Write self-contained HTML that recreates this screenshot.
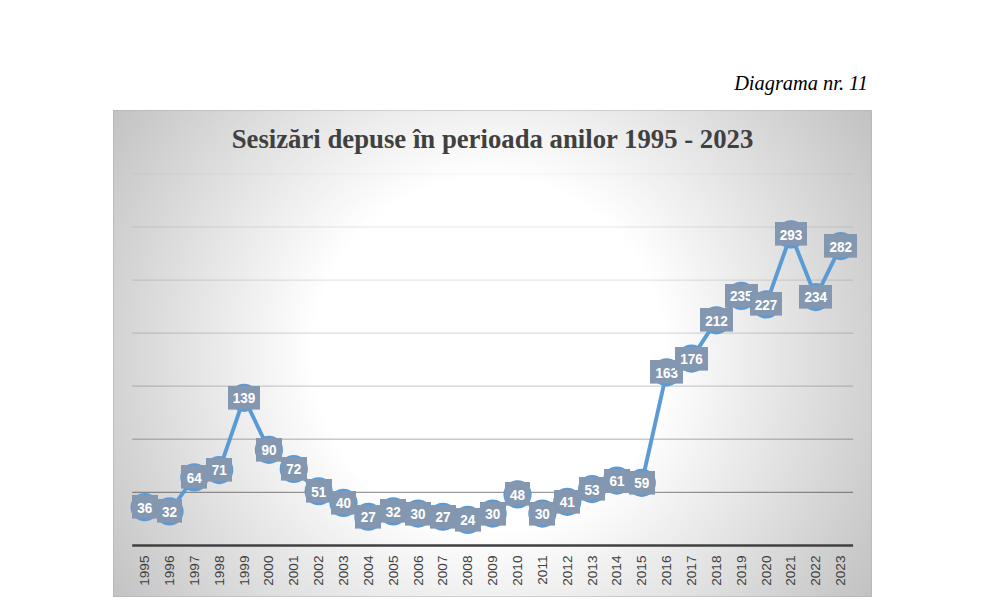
<!DOCTYPE html>
<html><head><meta charset="utf-8">
<style>
html,body{margin:0;padding:0;background:#fff;width:981px;height:615px;overflow:hidden;position:relative}
#diag{position:absolute;right:113px;top:71px;font-style:italic;font-size:20.4px;color:#000;font-family:"Liberation Serif",serif;white-space:nowrap;line-height:24px}
#chart{position:absolute;left:113px;top:110px;width:759px;height:487px;box-sizing:border-box;border:1px solid rgba(172,172,172,0.47);
background:radial-gradient(circle 452px at 375px 243px,#ffffff 0px,#ffffff 175px,#c2c2c2 452px)}
svg{position:absolute;left:0;top:0}
.dl text{font-family:"Liberation Sans",sans-serif;font-weight:bold;font-size:13.5px;fill:#fff;stroke:#fff;stroke-width:0.05px}
.xl text{font-family:"Liberation Sans",sans-serif;font-size:13.6px;fill:#404040}
#title{font-family:"Liberation Serif",serif;font-weight:bold;font-size:26.75px;fill:#404040}
</style></head><body>
<div id="diag">Diagrama nr. 11</div>
<div id="chart"></div>
<svg width="981" height="615" viewBox="0 0 981 615">
<text id="title" transform="translate(492.5,148.2) scale(1,1.055)" text-anchor="middle">Sesizări depuse în perioada anilor 1995 - 2023</text>
<line x1="132.2" y1="492.33" x2="853.1" y2="492.33" stroke="#000" stroke-opacity="0.39" stroke-width="1.3"/><line x1="132.2" y1="439.26" x2="853.1" y2="439.26" stroke="#000" stroke-opacity="0.21" stroke-width="1.3"/><line x1="132.2" y1="386.19" x2="853.1" y2="386.19" stroke="#000" stroke-opacity="0.18" stroke-width="1.3"/><line x1="132.2" y1="333.12" x2="853.1" y2="333.12" stroke="#000" stroke-opacity="0.14" stroke-width="1.3"/><line x1="132.2" y1="280.05" x2="853.1" y2="280.05" stroke="#000" stroke-opacity="0.1" stroke-width="1.3"/><line x1="132.2" y1="226.98000000000002" x2="853.1" y2="226.98000000000002" stroke="#000" stroke-opacity="0.065" stroke-width="1.3"/><line x1="132.2" y1="173.91000000000003" x2="853.1" y2="173.91000000000003" stroke="#000" stroke-opacity="0.03" stroke-width="1.3"/>
<line x1="132.2" y1="545.4" x2="853.1" y2="545.4" stroke="#404040" stroke-width="2.5"/>
<polyline points="144.63,507.19 169.49,511.44 194.35,477.47 219.21,470.04 244.06,397.87 268.92,449.87 293.78,468.98 318.64,491.27 343.50,502.94 368.36,516.74 393.22,511.44 418.07,513.56 442.93,516.74 467.79,519.93 492.65,513.56 517.51,494.45 542.37,513.56 567.23,501.88 592.08,489.15 616.94,480.65 641.80,482.78 666.66,372.39 691.52,358.59 716.38,320.38 741.24,295.97 766.09,304.46 790.95,234.41 815.81,297.03 840.67,246.09" fill="none" stroke="#5b9bd5" stroke-width="3.9" stroke-linejoin="round"/>
<circle cx="144.63" cy="507.19" r="14.1" fill="#5b9bd5"/><circle cx="169.49" cy="511.44" r="14.1" fill="#5b9bd5"/><circle cx="194.35" cy="477.47" r="14.1" fill="#5b9bd5"/><circle cx="219.21" cy="470.04" r="14.1" fill="#5b9bd5"/><circle cx="244.06" cy="397.87" r="14.1" fill="#5b9bd5"/><circle cx="268.92" cy="449.87" r="14.1" fill="#5b9bd5"/><circle cx="293.78" cy="468.98" r="14.1" fill="#5b9bd5"/><circle cx="318.64" cy="491.27" r="14.1" fill="#5b9bd5"/><circle cx="343.50" cy="502.94" r="14.1" fill="#5b9bd5"/><circle cx="368.36" cy="516.74" r="14.1" fill="#5b9bd5"/><circle cx="393.22" cy="511.44" r="14.1" fill="#5b9bd5"/><circle cx="418.07" cy="513.56" r="14.1" fill="#5b9bd5"/><circle cx="442.93" cy="516.74" r="14.1" fill="#5b9bd5"/><circle cx="467.79" cy="519.93" r="14.1" fill="#5b9bd5"/><circle cx="492.65" cy="513.56" r="14.1" fill="#5b9bd5"/><circle cx="517.51" cy="494.45" r="14.1" fill="#5b9bd5"/><circle cx="542.37" cy="513.56" r="14.1" fill="#5b9bd5"/><circle cx="567.23" cy="501.88" r="14.1" fill="#5b9bd5"/><circle cx="592.08" cy="489.15" r="14.1" fill="#5b9bd5"/><circle cx="616.94" cy="480.65" r="14.1" fill="#5b9bd5"/><circle cx="641.80" cy="482.78" r="14.1" fill="#5b9bd5"/><circle cx="666.66" cy="372.39" r="14.1" fill="#5b9bd5"/><circle cx="691.52" cy="358.59" r="14.1" fill="#5b9bd5"/><circle cx="716.38" cy="320.38" r="14.1" fill="#5b9bd5"/><circle cx="741.24" cy="295.97" r="14.1" fill="#5b9bd5"/><circle cx="766.09" cy="304.46" r="14.1" fill="#5b9bd5"/><circle cx="790.95" cy="234.41" r="14.1" fill="#5b9bd5"/><circle cx="815.81" cy="297.03" r="14.1" fill="#5b9bd5"/><circle cx="840.67" cy="246.09" r="14.1" fill="#5b9bd5"/>
<g class="dl"><rect x="132" y="495" width="26" height="23.600000000000023" fill="#8497b0"/><text transform="translate(144.63,512.64) scale(1,1.035)" text-anchor="middle">36</text><rect x="157" y="499" width="25" height="23.600000000000023" fill="#8497b0"/><text transform="translate(169.49,516.89) scale(1,1.035)" text-anchor="middle">32</text><rect x="181" y="465" width="26" height="23.600000000000023" fill="#8497b0"/><text transform="translate(194.35,482.92) scale(1,1.035)" text-anchor="middle">64</text><rect x="206" y="458" width="26" height="23.600000000000023" fill="#8497b0"/><text transform="translate(219.21,475.49) scale(1,1.035)" text-anchor="middle">71</text><rect x="228" y="386" width="32" height="23.600000000000023" fill="#8497b0"/><text transform="translate(244.06,403.32) scale(1,1.035)" text-anchor="middle">139</text><rect x="256" y="438" width="26" height="23.600000000000023" fill="#8497b0"/><text transform="translate(268.92,455.33) scale(1,1.035)" text-anchor="middle">90</text><rect x="281" y="457" width="26" height="23.600000000000023" fill="#8497b0"/><text transform="translate(293.78,474.43) scale(1,1.035)" text-anchor="middle">72</text><rect x="306" y="479" width="26" height="23.600000000000023" fill="#8497b0"/><text transform="translate(318.64,496.72) scale(1,1.035)" text-anchor="middle">51</text><rect x="331" y="491" width="25" height="23.600000000000023" fill="#8497b0"/><text transform="translate(343.50,508.40) scale(1,1.035)" text-anchor="middle">40</text><rect x="355" y="505" width="26" height="23.600000000000023" fill="#8497b0"/><text transform="translate(368.36,522.19) scale(1,1.035)" text-anchor="middle">27</text><rect x="380" y="499" width="26" height="23.600000000000023" fill="#8497b0"/><text transform="translate(393.22,516.89) scale(1,1.035)" text-anchor="middle">32</text><rect x="405" y="502" width="26" height="23.600000000000023" fill="#8497b0"/><text transform="translate(418.07,519.01) scale(1,1.035)" text-anchor="middle">30</text><rect x="430" y="505" width="26" height="23.600000000000023" fill="#8497b0"/><text transform="translate(442.93,522.19) scale(1,1.035)" text-anchor="middle">27</text><rect x="455" y="508" width="26" height="23.600000000000023" fill="#8497b0"/><text transform="translate(467.79,525.38) scale(1,1.035)" text-anchor="middle">24</text><rect x="480" y="502" width="26" height="23.600000000000023" fill="#8497b0"/><text transform="translate(492.65,519.01) scale(1,1.035)" text-anchor="middle">30</text><rect x="505" y="482" width="25" height="23.600000000000023" fill="#8497b0"/><text transform="translate(517.51,499.90) scale(1,1.035)" text-anchor="middle">48</text><rect x="529" y="502" width="26" height="23.600000000000023" fill="#8497b0"/><text transform="translate(542.37,519.01) scale(1,1.035)" text-anchor="middle">30</text><rect x="554" y="490" width="26" height="23.600000000000023" fill="#8497b0"/><text transform="translate(567.23,507.33) scale(1,1.035)" text-anchor="middle">41</text><rect x="579" y="477" width="26" height="23.600000000000023" fill="#8497b0"/><text transform="translate(592.08,494.60) scale(1,1.035)" text-anchor="middle">53</text><rect x="604" y="469" width="26" height="23.600000000000023" fill="#8497b0"/><text transform="translate(616.94,486.11) scale(1,1.035)" text-anchor="middle">61</text><rect x="629" y="471" width="26" height="23.600000000000023" fill="#8497b0"/><text transform="translate(641.80,488.23) scale(1,1.035)" text-anchor="middle">59</text><rect x="650" y="360" width="33" height="23.600000000000023" fill="#8497b0"/><text transform="translate(666.66,377.84) scale(1,1.035)" text-anchor="middle">163</text><rect x="675" y="347" width="33" height="23.600000000000023" fill="#8497b0"/><text transform="translate(691.52,364.05) scale(1,1.035)" text-anchor="middle">176</text><rect x="700" y="308" width="33" height="23.600000000000023" fill="#8497b0"/><text transform="translate(716.38,325.84) scale(1,1.035)" text-anchor="middle">212</text><rect x="725" y="284" width="33" height="23.600000000000023" fill="#8497b0"/><text transform="translate(741.24,301.42) scale(1,1.035)" text-anchor="middle">235</text><rect x="750" y="292" width="32" height="23.600000000000023" fill="#8497b0"/><text transform="translate(766.09,309.91) scale(1,1.035)" text-anchor="middle">227</text><rect x="775" y="222" width="32" height="23.599999999999994" fill="#8497b0"/><text transform="translate(790.95,239.86) scale(1,1.035)" text-anchor="middle">293</text><rect x="799" y="285" width="33" height="23.600000000000023" fill="#8497b0"/><text transform="translate(815.81,302.48) scale(1,1.035)" text-anchor="middle">234</text><rect x="824" y="234" width="33" height="23.600000000000023" fill="#8497b0"/><text transform="translate(840.67,251.54) scale(1,1.035)" text-anchor="middle">282</text></g>
<g class="xl"><text transform="translate(149.10,555.5) rotate(-90)" text-anchor="end">1995</text><text transform="translate(173.96,555.5) rotate(-90)" text-anchor="end">1996</text><text transform="translate(198.82,555.5) rotate(-90)" text-anchor="end">1997</text><text transform="translate(223.67,555.5) rotate(-90)" text-anchor="end">1998</text><text transform="translate(248.53,555.5) rotate(-90)" text-anchor="end">1999</text><text transform="translate(273.39,555.5) rotate(-90)" text-anchor="end">2000</text><text transform="translate(298.25,555.5) rotate(-90)" text-anchor="end">2001</text><text transform="translate(323.11,555.5) rotate(-90)" text-anchor="end">2002</text><text transform="translate(347.97,555.5) rotate(-90)" text-anchor="end">2003</text><text transform="translate(372.83,555.5) rotate(-90)" text-anchor="end">2004</text><text transform="translate(397.68,555.5) rotate(-90)" text-anchor="end">2005</text><text transform="translate(422.54,555.5) rotate(-90)" text-anchor="end">2006</text><text transform="translate(447.40,555.5) rotate(-90)" text-anchor="end">2007</text><text transform="translate(472.26,555.5) rotate(-90)" text-anchor="end">2008</text><text transform="translate(497.12,555.5) rotate(-90)" text-anchor="end">2009</text><text transform="translate(521.98,555.5) rotate(-90)" text-anchor="end">2010</text><text transform="translate(546.84,555.5) rotate(-90)" text-anchor="end">2011</text><text transform="translate(571.69,555.5) rotate(-90)" text-anchor="end">2012</text><text transform="translate(596.55,555.5) rotate(-90)" text-anchor="end">2013</text><text transform="translate(621.41,555.5) rotate(-90)" text-anchor="end">2014</text><text transform="translate(646.27,555.5) rotate(-90)" text-anchor="end">2015</text><text transform="translate(671.13,555.5) rotate(-90)" text-anchor="end">2016</text><text transform="translate(695.99,555.5) rotate(-90)" text-anchor="end">2017</text><text transform="translate(720.85,555.5) rotate(-90)" text-anchor="end">2018</text><text transform="translate(745.71,555.5) rotate(-90)" text-anchor="end">2019</text><text transform="translate(770.56,555.5) rotate(-90)" text-anchor="end">2020</text><text transform="translate(795.42,555.5) rotate(-90)" text-anchor="end">2021</text><text transform="translate(820.28,555.5) rotate(-90)" text-anchor="end">2022</text><text transform="translate(845.14,555.5) rotate(-90)" text-anchor="end">2023</text></g>
</svg>
</body></html>
